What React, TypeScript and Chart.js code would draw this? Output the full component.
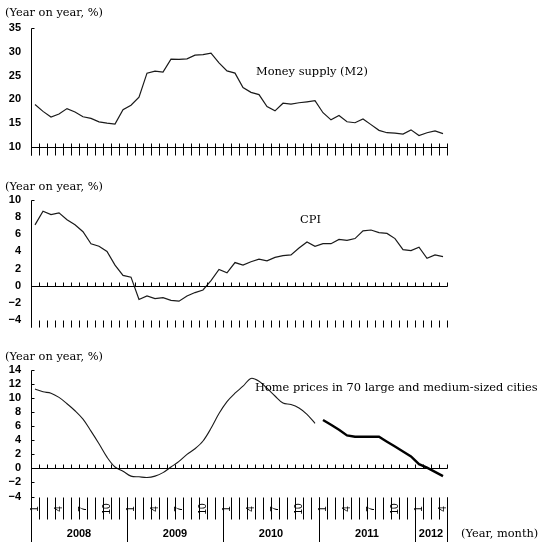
import React, { useEffect, useRef } from 'react';
import { Chart, registerables } from 'chart.js';

Chart.register(...registerables);

// ---------- data ----------
const years = ['2008', '2009', '2010', '2011', '2012'];
const monthsInYear = [12, 12, 12, 12, 4];
const monthTickLabels = ['1', '4', '7', '10'];

// Money supply (M2), year on year %
const m2 = [
  18.94, 17.48, 16.29, 16.94, 18.07, 17.37, 16.35, 16.0, 15.29, 15.02, 14.8, 17.82,
  18.79, 20.48, 25.51, 25.95, 25.74, 28.46, 28.42, 28.53, 29.31, 29.42, 29.74, 27.68,
  25.98, 25.52, 22.5, 21.48, 21.0, 18.5, 17.6, 19.2, 19.0, 19.3, 19.5, 19.72,
  17.2, 15.7, 16.6, 15.3, 15.1, 15.9, 14.7, 13.5, 13.0, 12.9, 12.7, 13.6,
  12.4, 13.0, 13.4, 12.8,
];

// CPI, year on year %
const cpi = [
  7.1, 8.7, 8.3, 8.5, 7.7, 7.1, 6.3, 4.9, 4.6, 4.0, 2.4, 1.2,
  1.0, -1.6, -1.2, -1.5, -1.4, -1.7, -1.8, -1.2, -0.8, -0.5, 0.6, 1.9,
  1.5, 2.7, 2.4, 2.8, 3.1, 2.9, 3.3, 3.5, 3.6, 4.4, 5.1, 4.6,
  4.9, 4.9, 5.4, 5.3, 5.5, 6.4, 6.5, 6.2, 6.1, 5.5, 4.2, 4.1,
  4.5, 3.2, 3.6, 3.4,
];

// Home prices in 70 cities (old series, Jan 2008 - Dec 2010)
const homeOld = [
  11.3, 10.9, 10.7, 10.1, 9.2, 8.2, 7.0, 5.3, 3.5, 1.6, 0.2, -0.4,
  -1.1, -1.2, -1.3, -1.1, -0.6, 0.2, 1.0, 2.0, 2.8, 3.9, 5.7, 7.8,
  9.5, 10.7, 11.7, 12.8, 12.4, 11.4, 10.3, 9.3, 9.1, 8.6, 7.7, 6.4,
];
// Home prices (new series, Jan 2011 - Apr 2012)
const homeNew = [6.9, 6.2, 5.5, 4.7, 4.5, 4.5, 4.5, 4.5, 3.8, 3.1, 2.4, 1.7, 0.6, 0.1, -0.5, -1.1];

const categories: string[] = [];
const monthOfCat: number[] = [];
const yearStartIdx: number[] = [];
years.forEach((y, i) => {
  yearStartIdx.push(categories.length);
  for (let m = 1; m <= monthsInYear[i]; m++) {
    categories.push(`${y}/${m}`);
    monthOfCat.push(m);
  }
});
yearStartIdx.push(categories.length);

const homeOldFull = categories.map((_, i) => (i < homeOld.length ? homeOld[i] : null));
const homeNewFull = categories.map((_, i) => {
  const j = i - homeOld.length;
  return j >= 0 && j < homeNew.length ? homeNew[j] : null;
});

// ---------- styling ----------
const W = 548;
const H = 548;
const SERIF = '11.4px "DejaVu Serif"';
const TICK_FONT = { family: '"Liberation Sans", Arial, sans-serif', size: 11, weight: 'bold' as const };
const LINE_COLOR = '#1a1a1a';

type Kind = 'top' | 'mid' | 'bot';

interface PanelSpec {
  kind: Kind;
  top: number;
  bottom: number;
  min: number;
  max: number;
  step: number;
  title: string;
  titleY: number;
  note: string;
  noteX: number;
  noteY: number;
}

const panels: PanelSpec[] = [
  { kind: 'top', top: 28, bottom: 147, min: 10, max: 35, step: 5, title: '(Year on year, %)', titleY: 13, note: 'Money supply (M2)', noteX: 256, noteY: 72 },
  { kind: 'mid', top: 200, bottom: 320, min: -4, max: 10, step: 2, title: '(Year on year, %)', titleY: 187, note: 'CPI', noteX: 300, noteY: 220 },
  { kind: 'bot', top: 370, bottom: 496.5, min: -4, max: 14, step: 2, title: '(Year on year, %)', titleY: 357, note: 'Home prices in 70 large and medium-sized cities', noteX: 255, noteY: 388 },
];

function line(ctx: CanvasRenderingContext2D, x1: number, y1: number, x2: number, y2: number) {
  ctx.beginPath();
  ctx.moveTo(x1, y1);
  ctx.lineTo(x2, y2);
  ctx.stroke();
}

function decorPlugin(p: PanelSpec) {
  return {
    id: 'decor_' + p.kind,
    afterDraw(chart: any) {
      const ctx: CanvasRenderingContext2D = chart.ctx;
      const xs = chart.scales.x;
      const ys = chart.scales.y;
      const n = categories.length;
      const w = xs.getPixelForValue(1) - xs.getPixelForValue(0);
      const x0 = xs.getPixelForValue(0) - w / 2;
      const bx = (k: number) => Math.round(x0 + k * w) + 0.5;
      const cx = (i: number) => xs.getPixelForValue(i);
      const axisX = Math.round(ys.right) + 0.5;
      const yTop = Math.round(ys.top) + 0.5;
      const yBot = Math.round(ys.bottom) + 0.5;
      const yZero = Math.round(ys.getPixelForValue(Math.max(p.min, 0))) + 0.5;

      ctx.save();
      ctx.strokeStyle = '#000';
      ctx.fillStyle = '#000';
      ctx.lineWidth = 1;

      // title and note
      ctx.font = SERIF;
      ctx.textAlign = 'left';
      ctx.textBaseline = 'middle';
      ctx.fillText(p.title, 5, p.titleY);
      ctx.fillText(p.note, p.noteX, p.noteY);

      if (p.kind === 'top') {
        line(ctx, axisX, yTop, axisX, yBot + 8);
        line(ctx, axisX, yTop, axisX + 3, yTop);
        line(ctx, x0, yBot, bx(n), yBot);
        for (let k = 0; k <= n; k++) line(ctx, bx(k), yBot - 4, bx(k), yBot + 8);
      } else if (p.kind === 'mid') {
        line(ctx, axisX, yTop, axisX, yBot + 7);
        line(ctx, axisX, yTop, axisX + 3, yTop);
        line(ctx, x0, yZero, bx(n), yZero);
        for (let k = 0; k <= n; k++) {
          line(ctx, bx(k), yZero - 4, bx(k), yZero);
          line(ctx, bx(k), yBot, bx(k), yBot + 7);
        }
      } else {
        const sepBottom = 542;
        line(ctx, axisX, yTop, axisX, sepBottom);
        for (let v = p.min; v <= p.max; v += p.step) {
          const yy = Math.round(ys.getPixelForValue(v)) + 0.5;
          line(ctx, axisX, yy, axisX + 3, yy);
        }
        line(ctx, x0, yZero, bx(n), yZero);
        for (let k = 0; k <= n; k++) {
          line(ctx, bx(k), yZero - 4, bx(k), yZero);
          line(ctx, bx(k), yBot, bx(k), yBot + 22);
        }
        yearStartIdx.forEach((k) => line(ctx, bx(k), yBot, bx(k), sepBottom));

        // month labels (rotated)
        ctx.font = '10px "Liberation Sans", Arial, sans-serif';
        ctx.textAlign = 'center';
        ctx.textBaseline = 'middle';
        for (let i = 0; i < n; i++) {
          const lab = String(monthOfCat[i]);
          if (monthTickLabels.includes(lab)) {
            ctx.save();
            ctx.translate(cx(i), yBot + 11.5);
            ctx.rotate(-Math.PI / 2);
            ctx.fillText(lab, 0, 0);
            ctx.restore();
          }
        }
        // year labels
        ctx.font = 'bold 11px "Liberation Sans", Arial, sans-serif';
        years.forEach((y, i) => {
          const a = x0 + yearStartIdx[i] * w;
          const b = x0 + yearStartIdx[i + 1] * w;
          ctx.fillText(y, (a + b) / 2, 534);
        });
        ctx.font = SERIF;
        ctx.textAlign = 'left';
        ctx.fillText('(Year, month)', 461, 534);
      }
      ctx.restore();
    },
  };
}

function datasetsFor(kind: Kind): any[] {
  const base = { pointRadius: 0, borderColor: LINE_COLOR, fill: false, spanGaps: false };
  if (kind === 'top') return [{ ...base, data: m2, borderWidth: 1.2, tension: 0 }];
  if (kind === 'mid') return [{ ...base, data: cpi, borderWidth: 1.2, tension: 0 }];
  return [
    { ...base, data: homeOldFull, borderWidth: 1.1, tension: 0.35 },
    { ...base, data: homeNewFull, borderWidth: 2.4, tension: 0, borderColor: '#000' },
  ];
}

function Panel({ spec }: { spec: PanelSpec }) {
  const ref = useRef<HTMLCanvasElement | null>(null);
  useEffect(() => {
    if (!ref.current) return;
    const chart = new Chart(ref.current, {
      type: 'line',
      data: { labels: categories, datasets: datasetsFor(spec.kind) },
      options: {
        animation: false,
        responsive: false,
        events: [],
        layout: { padding: { top: spec.top, bottom: H - spec.bottom, left: 0, right: W - 447 } },
        plugins: { legend: { display: false }, tooltip: { enabled: false }, title: { display: false } },
        scales: {
          x: { type: 'category', display: false, offset: true },
          y: {
            type: 'linear',
            min: spec.min,
            max: spec.max,
            grid: { display: false, drawTicks: false },
            border: { display: false },
            afterFit: (s: any) => {
              s.width = 31;
            },
            ticks: {
              stepSize: spec.step,
              autoSkip: false,
              padding: 10,
              color: '#000',
              font: TICK_FONT,
              callback: (v: any) => String(v).replace('-', '\u2212'),
            },
          },
        },
      },
      plugins: [decorPlugin(spec)],
    });
    return () => chart.destroy();
  }, [spec]);
  return (
    <canvas
      ref={ref}
      width={W}
      height={H}
      style={{ position: 'absolute', left: 0, top: 0, width: W, height: H, pointerEvents: 'none' }}
    />
  );
}

export default function App() {
  return (
    <div style={{ position: 'absolute', left: 0, top: 0, width: W, height: H, background: '#fff' }}>
      {panels.map((p) => (
        <Panel key={p.kind} spec={p} />
      ))}
    </div>
  );
}
